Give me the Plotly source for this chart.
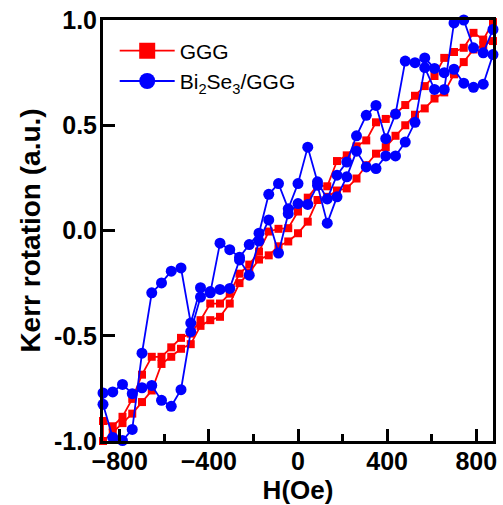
import plotly.graph_objects as go

# Applied field H (Oe) for one sweep
field_oe = [-875, -831.25, -787.5, -743.75, -700, -656.25, -612.5, -568.75, -525,
            -481.25, -437.5, -393.75, -350, -306.25, -262.5, -218.75, -175,
            -131.25, -87.5, -43.75, 0, 43.75, 87.5, 131.25, 175, 218.75, 262.5,
            306.25, 350, 393.75, 437.5, 481.25, 525, 568.75, 612.5, 656.25, 700,
            743.75, 787.5, 831.25, 875]

# GGG substrate: branch swept from +H to -H, then back from -H to +H
ggg_down = [-0.905, -0.93, -0.885, -0.80, -0.685, -0.60, -0.60, -0.555, -0.51,
            -0.49, -0.426, -0.347, -0.347, -0.30, -0.205, -0.162, -0.10, -0.005,
            0.008, 0.011, 0.09, 0.156, 0.215, 0.21, 0.33, 0.357, 0.40, 0.428,
            0.514, 0.53, 0.555, 0.596, 0.64, 0.686, 0.734, 0.82, 0.848, 0.868,
            0.939, 0.907, 0.99]
ggg_up = [-1.0, -0.96, -0.915, -0.87, -0.815, -0.76, -0.634, -0.60, -0.562,
          -0.54, -0.453, -0.426, -0.41, -0.347, -0.25, -0.20, -0.138, -0.118,
          -0.075, -0.052, -0.013, 0.042, 0.145, 0.16, 0.19, 0.20, 0.247, 0.31,
          0.365, 0.396, 0.45, 0.50, 0.55, 0.58, 0.627, 0.656, 0.742, 0.80,
          0.86, 0.88, 0.90]

# Bi2Se3/GGG film
bise_down = [-0.826, -0.983, -0.998, -0.945, -0.583, -0.296, -0.249, -0.193,
             -0.178, -0.44, -0.272, -0.296, -0.06, -0.091, -0.127, -0.067,
             -0.013, 0.172, 0.223, 0.103, 0.223, 0.396, 0.231, 0.15, 0.263,
             0.325, 0.45, 0.547, 0.594, 0.436, 0.553, 0.805, 0.797, 0.82, 0.77,
             0.75, 0.766, 0.70, 0.68, 0.695, 0.836]
bise_up = [-0.772, -0.767, -0.731, -0.775, -0.747, -0.736, -0.807, -0.835,
           -0.756, -0.48, -0.316, -0.29, -0.28, -0.275, -0.14, -0.212, -0.05,
           0.05, -0.107, 0.08, 0.128, 0.124, 0.215, 0.035, 0.16, 0.255, 0.377,
           0.302, 0.294, 0.354, 0.354, 0.42, 0.514, 0.774, 0.67, 0.67, 0.986,
           1.0, 0.868, 0.844, 0.955]

x_ticks = [-800, -400, 0, 400, 800]
x_minor = [-600, -200, 200, 600]
y_ticks = [-1.0, -0.5, 0.0, 0.5, 1.0]
y_ticktext = ["-1.0", "-0.5", "0.0", "0.5", "1.0"]

RED = "#ff0000"
BLUE = "#0000ff"
FONT = "Liberation Sans, Arial, sans-serif"

# closed loop: descending sweep then ascending sweep
loop_x = field_oe[::-1] + field_oe

fig = go.Figure()
fig.add_trace(go.Scatter(
    x=loop_x, y=ggg_down[::-1] + ggg_up, mode="lines+markers",
    line=dict(color=RED, width=1.8),
    marker=dict(symbol="square", size=8, color=RED),
    cliponaxis=False, showlegend=False))
fig.add_trace(go.Scatter(
    x=loop_x, y=bise_down[::-1] + bise_up, mode="lines+markers",
    line=dict(color=BLUE, width=1.8),
    marker=dict(symbol="circle", size=11, color=BLUE),
    cliponaxis=False, showlegend=False))

# legend entries with larger symbols
fig.add_trace(go.Scatter(
    x=[None], y=[None], mode="lines+markers", name="GGG",
    line=dict(color=RED, width=1.8),
    marker=dict(symbol="square", size=16, color=RED)))
fig.add_trace(go.Scatter(
    x=[None], y=[None], mode="lines+markers", name="Bi<sub>2</sub>Se<sub>3</sub>/GGG",
    line=dict(color=BLUE, width=1.8),
    marker=dict(symbol="circle", size=16, color=BLUE)))

axis_common = dict(
    showgrid=False, zeroline=False, showline=True, mirror=True,
    linecolor="black", linewidth=3, ticks="inside", ticklen=12, tickwidth=2.5,
    tickcolor="black",
    tickfont=dict(family=FONT, size=25, color="black", weight="bold"),
)

fig.update_layout(
    width=503, height=505,
    margin=dict(l=103, r=6, t=17, b=64),
    plot_bgcolor="white", paper_bgcolor="white",
    xaxis=dict(
        range=[-875, 875], tickvals=x_ticks, ticklabelstandoff=-4,
        minor=dict(tickvals=x_minor, ticks="inside", ticklen=7, tickwidth=2.5,
                   tickcolor="black", showgrid=False),
        title=dict(text="H(Oe)", standoff=0,
                   font=dict(family=FONT, size=26, color="black", weight="bold")),
        **axis_common),
    yaxis=dict(
        range=[-1.0, 1.0], tickvals=y_ticks, ticktext=y_ticktext,
        ticklabelstandoff=-2,
        title=dict(text="Kerr rotation (a.u.)", standoff=6,
                   font=dict(family=FONT, size=28, color="black", weight="bold")),
        **axis_common),
    legend=dict(x=0.03, y=0.975, xanchor="left", yanchor="top",
                bgcolor="rgba(0,0,0,0)", tracegroupgap=0, itemwidth=55,
                font=dict(family=FONT, size=21, color="black")),
)

fig.write_html("out.html")
